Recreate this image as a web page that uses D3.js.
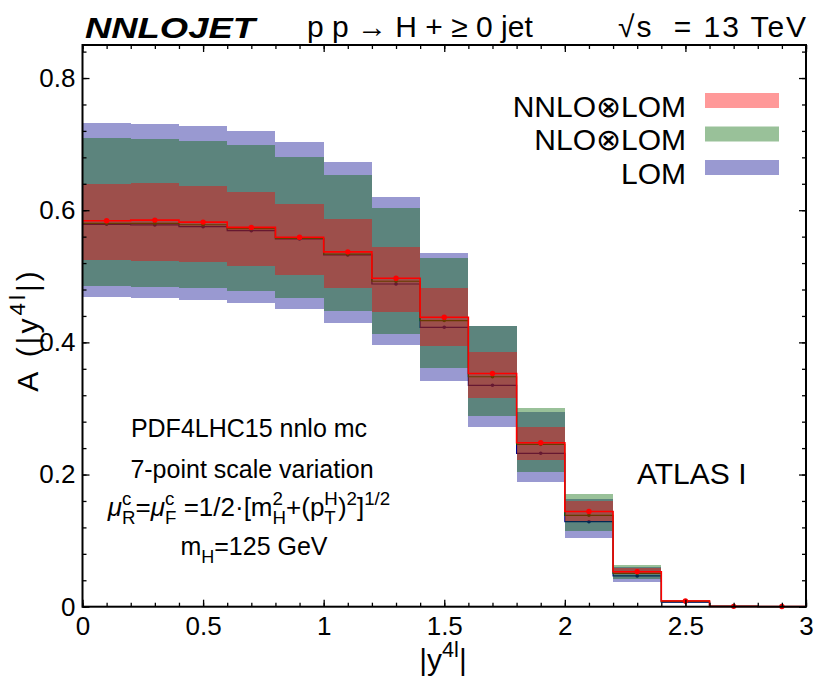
<!DOCTYPE html>
<html>
<head>
<meta charset="utf-8">
<script src="https://cdn.jsdelivr.net/npm/d3@7"></script>
<style>
  body { margin: 0; background: #fff; }
  text { font-family: "Liberation Sans", Arial, Helvetica, sans-serif; fill: #000; }
</style>
</head>
<body>
<div id="chart"></div>
<script>
// bins in |y4l|
var binEdges = [0, 0.2, 0.4, 0.6, 0.8, 1.0, 1.2, 1.4, 1.6, 1.8, 2.0, 2.2, 2.4, 2.6, 2.8, 3.0];

// NNLO (x) LOM
var nnloCentral = [0.584, 0.585, 0.582, 0.574, 0.559, 0.537, 0.497, 0.438, 0.353, 0.248, 0.144, 0.053, 0.0086, 0.0005, 0.0003];
var nnloLow     = [0.524, 0.523, 0.521, 0.515, 0.502, 0.483, 0.446, 0.394, 0.316, 0.222, 0.129, 0.0495, 0.0079, 0.0004, 0.0002];
var nnloHigh    = [0.640, 0.641, 0.637, 0.628, 0.609, 0.587, 0.544, 0.482, 0.386, 0.2715, 0.160, 0.058, 0.0094, 0.0006, 0.0004];
// NLO (x) LOM
var nloCentral  = [0.580, 0.580, 0.578, 0.572, 0.5575, 0.5335, 0.4925, 0.433, 0.348, 0.2457, 0.1383, 0.0505, 0.0078, 0.0004, 0.0002];
var nloLow      = [0.485, 0.484, 0.482, 0.477, 0.467, 0.4475, 0.4125, 0.361, 0.289, 0.2043, 0.115, 0.0415, 0.0065, 0.0003, 0.0001];
var nloHigh     = [0.710, 0.708, 0.705, 0.698, 0.681, 0.653, 0.603, 0.528, 0.4255, 0.3012, 0.170, 0.0636, 0.0105, 0.0007, 0.0004];
// LOM
var lomCentral  = [0.5787, 0.5777, 0.5751, 0.569, 0.5565, 0.5322, 0.4883, 0.4228, 0.335, 0.2321, 0.1286, 0.0465, 0.007, 0.0004, 0.0002];
var lomLow      = [0.468, 0.467, 0.464, 0.460, 0.450, 0.430, 0.396, 0.342, 0.2715, 0.188, 0.1044, 0.0378, 0.006, 0.0003, 0.0001];
var lomHigh     = [0.7325, 0.7305, 0.7274, 0.7204, 0.7037, 0.6734, 0.6196, 0.5357, 0.425, 0.2942, 0.163, 0.0596, 0.0098, 0.0006, 0.0003];

var seriesNames = ["NNLO\u2297LOM", "NLO\u2297LOM", "LOM"];
var xMajorTicks = [0, 0.5, 1, 1.5, 2, 2.5, 3];
var yMajorTicks = [0, 0.2, 0.4, 0.6, 0.8];

var width = 830, height = 682;

var svg = d3.select("#chart").append("svg")
    .attr("width", width)
    .attr("height", height);

var x = d3.scaleLinear().domain([0, 3]).range([82.5, 806]);
var y = d3.scaleLinear().domain([0, 0.85]).range([606.7, 45]);

// draw order: LOM first, NNLO on top
var series = [
  { name: seriesNames[2], c: lomCentral,  lo: lomLow,  hi: lomHigh,  color: "#00008b", lw: 1.2, r: 1.8 },
  { name: seriesNames[1], c: nloCentral,  lo: nloLow,  hi: nloHigh,  color: "#006400", lw: 1.2, r: 1.8 },
  { name: seriesNames[0], c: nnloCentral, lo: nnloLow, hi: nnloHigh, color: "#ff0000", lw: 1.6, r: 2.7 }
];

var bins = d3.range(binEdges.length - 1);

var stepLine = d3.line()
    .x(function(d) { return x(d[0]); })
    .y(function(d) { return y(d[1]); })
    .curve(d3.curveStepAfter);

series.forEach(function(s) {
  var g = svg.append("g");
  g.selectAll("rect")
    .data(bins)
    .enter().append("rect")
      .attr("x", function(i) { return x(binEdges[i]); })
      .attr("width", function(i) { return x(binEdges[i + 1]) - x(binEdges[i]); })
      .attr("y", function(i) { return y(s.hi[i]); })
      .attr("height", function(i) { return y(s.lo[i]) - y(s.hi[i]); })
      .attr("fill", s.color)
      .attr("fill-opacity", 0.4)
      .attr("shape-rendering", "crispEdges");

  var pts = bins.map(function(i) { return [binEdges[i], s.c[i]]; });
  pts.push([binEdges[binEdges.length - 1], s.c[s.c.length - 1]]);
  g.append("path")
      .attr("d", stepLine(pts))
      .attr("fill", "none")
      .attr("stroke", s.color)
      .attr("stroke-width", s.lw);

  g.selectAll("circle")
    .data(bins)
    .enter().append("circle")
      .attr("cx", function(i) { return x((binEdges[i] + binEdges[i + 1]) / 2); })
      .attr("cy", function(i) { return y(s.c[i]); })
      .attr("r", s.r)
      .attr("fill", s.color);
});

// axes, ticks pointing inwards on all four sides
function tidy(g) { g.select(".domain").remove(); }
var xMinor = d3.range(0, 31).map(function(d) { return d / 10; });
var yMinor = d3.range(0, 22).map(function(d) { return d * 0.04; });

svg.append("g").attr("transform", "translate(0," + y(0) + ")")
    .call(d3.axisBottom(x).tickValues(xMinor).tickSize(-4).tickFormat(""))
    .call(tidy);
svg.append("g").attr("transform", "translate(0," + y(0) + ")")
    .call(d3.axisBottom(x).tickValues(xMajorTicks).tickSizeInner(-7).tickSizeOuter(0)
      .tickPadding(10).tickFormat(function(d) { return d; }))
    .call(tidy)
    .selectAll("text").style("font-size", "26px");
svg.append("g").attr("transform", "translate(0," + y(0.85) + ")")
    .call(d3.axisTop(x).tickValues(xMinor).tickSize(-4).tickFormat(""))
    .call(tidy);
svg.append("g").attr("transform", "translate(0," + y(0.85) + ")")
    .call(d3.axisTop(x).tickValues(xMajorTicks).tickSize(-7).tickFormat(""))
    .call(tidy);

svg.append("g").attr("transform", "translate(" + x(0) + ",0)")
    .call(d3.axisLeft(y).tickValues(yMinor).tickSize(-4).tickFormat(""))
    .call(tidy);
svg.append("g").attr("transform", "translate(" + x(0) + ",0)")
    .call(d3.axisLeft(y).tickValues(yMajorTicks).tickSizeInner(-7).tickSizeOuter(0)
      .tickPadding(7).tickFormat(function(d) { return d; }))
    .call(tidy)
    .selectAll("text").style("font-size", "26px");
svg.append("g").attr("transform", "translate(" + x(3) + ",0)")
    .call(d3.axisRight(y).tickValues(yMinor).tickSize(-4).tickFormat(""))
    .call(tidy);
svg.append("g").attr("transform", "translate(" + x(3) + ",0)")
    .call(d3.axisRight(y).tickValues(yMajorTicks).tickSize(-7).tickFormat(""))
    .call(tidy);

svg.selectAll(".tick line").attr("stroke", "#000").attr("stroke-width", 1.3);

svg.append("rect")
    .attr("x", x(0)).attr("y", y(0.85))
    .attr("width", x(3) - x(0)).attr("height", y(0) - y(0.85))
    .attr("fill", "none").attr("stroke", "#000").attr("stroke-width", 2);

// text with sub/superscripts, stacked when both given
function rich(t, parts, fs, ratio) {
  var small = fs * (ratio || 0.68), cur = 0, pend = 0;
  parts.forEach(function(p) {
    if (p.t !== undefined) {
      var ts = t.append("tspan").attr("dy", -cur).attr("dx", pend).style("font-size", fs + "px").text(p.t);
      if (p.it) ts.style("font-style", "italic");
      cur = 0; pend = 0;
      return;
    }
    var wSup = 0, wSub = 0;
    if (p.sup !== undefined) {
      var up = -fs * 0.42;
      var s1 = t.append("tspan").attr("dy", up - cur).attr("dx", pend).style("font-size", small + "px").text(p.sup);
      cur = up; pend = 0;
      wSup = s1.node().getComputedTextLength();
    }
    if (p.sub !== undefined) {
      var down = fs * 0.3;
      var s2 = t.append("tspan").attr("dy", down - cur).attr("dx", -wSup + pend).style("font-size", small + "px").text(p.sub);
      cur = down; pend = 0;
      wSub = s2.node().getComputedTextLength();
      if (wSup > wSub) pend = wSup - wSub;
    }
  });
}

// header
svg.append("text").attr("x", 85).attr("y", 38)
    .attr("textLength", 170).attr("lengthAdjust", "spacingAndGlyphs")
    .style("font-size", "30px").style("font-weight", "bold").style("font-style", "italic")
    .text("NNLOJET");
svg.append("text").attr("x", 307).attr("y", 37).style("font-size", "30px")
    .text("p p \u2192 H + \u2265 0 jet");
svg.append("text").attr("x", 618).attr("y", 37)
    .attr("textLength", 188).attr("lengthAdjust", "spacing").style("font-size", "30px")
    .text("\u221As\u00A0 = 13 TeV");

// legend
var legend = svg.append("g").selectAll("g")
    .data(seriesNames)
    .enter().append("g")
      .attr("transform", function(d, i) { return "translate(0," + (116.5 + i * 33.5) + ")"; });
legend.append("text")
    .attr("x", 686).attr("text-anchor", "end").style("font-size", "30px")
    .text(function(d) { return d; });
legend.append("rect")
    .attr("x", 705).attr("y", -23.5).attr("width", 74).attr("height", 15)
    .attr("fill", function(d, i) { return series[2 - i].color; })
    .attr("fill-opacity", 0.4);

// axis titles
var xt = svg.append("text").attr("x", 443).attr("y", 670).attr("text-anchor", "middle");
rich(xt, [{ t: "|y" }, { sup: "4l" }, { t: "|" }], 30, 0.72);

var yt = svg.append("text").attr("text-anchor", "middle")
    .style("letter-spacing", "3px")
    .attr("transform", "translate(38,330) rotate(-90)");
rich(yt, [{ t: "A\u00A0(|y" }, { sup: "4l" }, { t: "|)" }], 30, 0.75);

// annotations
var fs = 25;
svg.append("text").attr("x", 249).attr("y", 437).attr("text-anchor", "middle")
    .style("font-size", fs + "px").text("PDF4LHC15 nnlo mc");
svg.append("text").attr("x", 252).attr("y", 478).attr("text-anchor", "middle")
    .style("font-size", fs + "px").text("7-point scale variation");
var mu = svg.append("text").attr("x", 249).attr("y", 516).attr("text-anchor", "middle");
rich(mu, [
  { t: "\u03BC", it: true }, { sup: "c", sub: "R" },
  { t: "=" }, { t: "\u03BC", it: true }, { sup: "c", sub: "F" },
  { t: " =1/2\u00B7[m" }, { sup: "2", sub: "H" },
  { t: "+(p" }, { sup: "H", sub: "T" },
  { t: ")" }, { sup: "2" }, { t: "]" }, { sup: "1/2" }
], 26, 0.72);
var mh = svg.append("text").attr("x", 254).attr("y", 555).attr("text-anchor", "middle");
rich(mh, [{ t: "m" }, { sub: "H" }, { t: "=125 GeV" }], fs, 0.72);

svg.append("text").attr("x", 637).attr("y", 484).style("font-size", "30px").text("ATLAS I");
</script>
</body>
</html>
